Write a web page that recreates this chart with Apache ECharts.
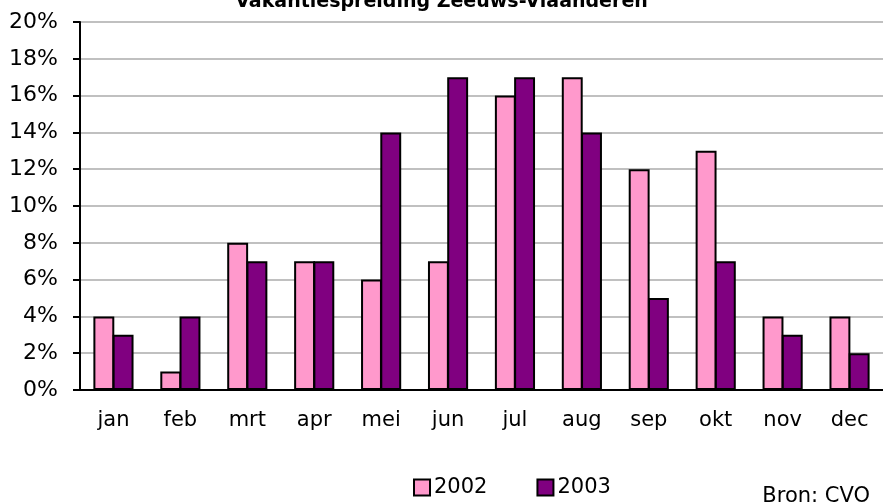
<!DOCTYPE html>
<html><head><meta charset="utf-8">
<script src="https://cdn.jsdelivr.net/npm/echarts@6/dist/echarts.min.js"></script>
<style>html,body{margin:0;padding:0;background:#fff}#c{width:883px;height:504px}</style>
</head><body><div id="c"></div>
<script>
const title = 'Vakantiespreiding Zeeuws-Vlaanderen';
const months = ['jan','feb','mrt','apr','mei','jun','jul','aug','sep','okt','nov','dec'];
const seriesNames = ['2002','2003'];
const values2002 = [4,1,8,7,6,7,16,17,12,13,4,4];
const values2003 = [3,4,7,7,14,17,17,14,5,7,3,2];
const yTicks = [0,2,4,6,8,10,12,14,16,18,20];
const source = 'Bron: CVO';

const font = 'DejaVu Sans';
const chart = echarts.init(document.getElementById('c'), null, {renderer:'canvas'});
chart.setOption({
  animation:false,
  backgroundColor:'#fff',
  title:{text:title,left:'center',top:-12,textStyle:{fontFamily:font,fontSize:19,fontWeight:'bold',color:'#000'}},
  legend:{data:seriesNames,left:408,top:472,itemWidth:16,itemHeight:16,itemGap:49,
    textStyle:{fontFamily:font,fontSize:21,color:'#000',padding:[0,0,0,-1]},
    icon:'rect'},
  graphic:[{type:'text',right:13,top:486,style:{text:source,font:'21px "DejaVu Sans"',fill:'#000'}}],
  grid:{left:80,right:0,top:22,bottom:114,containLabel:false},
  xAxis:{type:'category',data:months,
    axisLine:{lineStyle:{color:'#000',width:2}},axisTick:{show:false},
    axisLabel:{fontFamily:font,fontSize:21,color:'#000',margin:20}},
  yAxis:{type:'value',min:yTicks[0],max:yTicks[yTicks.length-1],interval:2,
    axisLine:{show:true,lineStyle:{color:'#000',width:2}},
    axisTick:{show:true,length:7,lineStyle:{color:'#000',width:2}},
    splitLine:{lineStyle:{color:'#c0c0c0',width:2}},
    axisLabel:{fontFamily:font,fontSize:22,color:'#000',margin:22,padding:[6,0,0,0],formatter:v=>v+'%'}},
  series:[
    {name:seriesNames[0],type:'bar',data:values2002,barGap:'-8%',barCategoryGap:'40%',
      itemStyle:{color:'#FF99CC',borderColor:'#000',borderWidth:2}},
    {name:seriesNames[1],type:'bar',data:values2003,barGap:'-8%',barCategoryGap:'40%',
      itemStyle:{color:'#800080',borderColor:'#000',borderWidth:2}}
  ]
});
</script></body></html>
